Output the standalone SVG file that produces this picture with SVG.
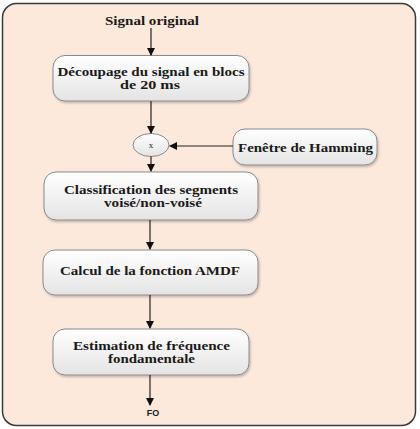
<svg xmlns="http://www.w3.org/2000/svg" width="420" height="429" viewBox="0 0 420 429">
<defs>
<linearGradient id="g" x1="0" y1="0" x2="0" y2="1">
<stop offset="0" stop-color="#ffffff"/>
<stop offset="1" stop-color="#e4e4e4"/>
</linearGradient>
<marker id="ah" markerWidth="8" markerHeight="8" refX="7" refY="4" orient="auto" markerUnits="userSpaceOnUse">
<path d="M0,0 L8,4 L0,8 Z" fill="#111"/>
</marker>
<filter id="sh" x="-10%" y="-10%" width="130%" height="140%">
<feDropShadow dx="1" dy="1.5" stdDeviation="1" flood-color="#000" flood-opacity="0.25"/>
</filter>
</defs>
<style>
.box{fill:url(#g);stroke:#8a8a8a;stroke-width:1;filter:url(#sh)}
.t{font-family:"Liberation Serif","Times New Roman",serif;font-weight:bold;font-size:11.5px;fill:#1a1a1a;text-anchor:middle}
.c{stroke:#222;stroke-width:1.2;fill:none;marker-end:url(#ah)}
</style>
<rect x="2.5" y="3.5" width="413" height="422" rx="14" fill="#fde9dc" stroke="#3a3a3a" stroke-width="1.5"/>
<g id="signal-original"><text class="t" x="152" y="25" textLength="94" lengthAdjust="spacingAndGlyphs">Signal original</text></g>
<g id="decoupage">
<rect class="box" x="53" y="55.5" width="196" height="45.5" rx="12"/>
<text class="t" x="151" y="75.5" textLength="187" lengthAdjust="spacingAndGlyphs">Découpage du signal en blocs</text>
<text class="t" x="150" y="88.5" textLength="60" lengthAdjust="spacingAndGlyphs">de 20 ms</text>
</g>
<g id="multiplier">
<ellipse cx="151" cy="145" rx="18" ry="11.5" fill="url(#g)" stroke="#8a8a8a" stroke-width="1"/>
<text class="t" x="151" y="147.5" style="font-size:9px;font-weight:normal">x</text>
</g>
<g id="hamming">
<rect class="box" x="233" y="129" width="144" height="36" rx="12"/>
<text class="t" x="305.5" y="152" textLength="135" lengthAdjust="spacingAndGlyphs">Fenêtre de Hamming</text>
</g>
<g id="classification">
<rect class="box" x="44" y="172" width="214" height="48" rx="12"/>
<text class="t" x="151" y="193.5" textLength="174" lengthAdjust="spacingAndGlyphs">Classification des segments</text>
<text class="t" x="153" y="206.5" textLength="98" lengthAdjust="spacingAndGlyphs">voisé/non-voisé</text>
</g>
<g id="amdf">
<rect class="box" x="43" y="250" width="215" height="45" rx="12"/>
<text class="t" x="150" y="275" textLength="180" lengthAdjust="spacingAndGlyphs">Calcul de la fonction AMDF</text>
</g>
<g id="estimation">
<rect class="box" x="53" y="329" width="196" height="46" rx="12"/>
<text class="t" x="151.5" y="349.5" textLength="157" lengthAdjust="spacingAndGlyphs">Estimation de fréquence</text>
<text class="t" x="151.5" y="362.5" textLength="87" lengthAdjust="spacingAndGlyphs">fondamentale</text>
</g>
<g id="f0"><text x="153" y="416" style="font-family:'Liberation Sans',Arial,sans-serif;font-weight:bold;font-size:9px;fill:#1a1a1a;text-anchor:middle">FO</text></g>
<g id="connectors">
<path class="c" d="M151,28 V55"/>
<path class="c" d="M151,101 V133"/>
<path class="c" d="M233,146 H170"/>
<path class="c" d="M151,156.5 V171"/>
<path class="c" d="M150,220 V249"/>
<path class="c" d="M150,295 V328"/>
<path class="c" d="M150,375 V405"/>
</g>
</svg>
